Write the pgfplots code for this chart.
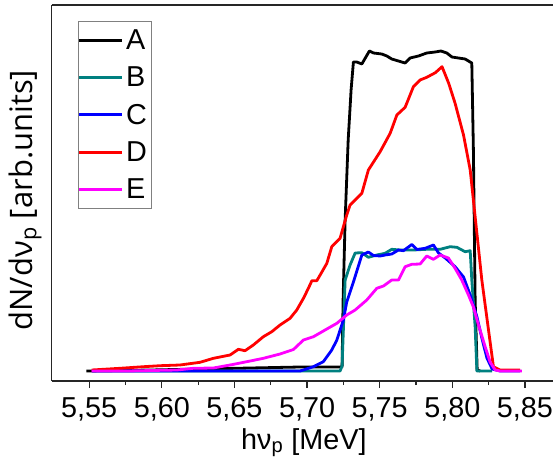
\documentclass[border=0pt]{standalone}
\usepackage{pgfplots}
\pgfplotsset{compat=1.18}
\usepackage{fontspec}
\setmainfont{Liberation Sans}
\newfontfamily\labfont{Open Sans}
\usetikzlibrary{calc}
\definecolor{cA}{RGB}{0,0,0}
\definecolor{cB}{RGB}{0,128,128}
\definecolor{cC}{RGB}{0,0,255}
\definecolor{cD}{RGB}{255,0,0}
\definecolor{cE}{RGB}{255,0,255}
\begin{document}
\begin{tikzpicture}
\begin{axis}[
  scale only axis, width=501.3pt, height=376pt,
  xmin=5.5242, xmax=5.8693, ymin=-10, ymax=366,
  axis x line=box, axis y line=left,
  axis line style={-, line width=1.4pt, black!85},
  ytick=\empty,
  xtick={5.55,5.60,5.65,5.70,5.75,5.80,5.85},
  minor x tick num=1,
  xtick pos=bottom, xtick align=outside,
  major tick length=7pt, minor tick length=4pt,
  every tick/.style={line width=1.2pt, black!85},
  font=\fontsize{28.8}{34}\selectfont,
  /pgf/number format/.cd, fixed, fixed zerofill, precision=2, use comma, assume math mode=true,
  /pgfplots/.cd,
  xticklabel style={font=\fontsize{28.8}{34}\selectfont, yshift=-6pt},
  xlabel={hν\textsubscript{p} [MeV]},
  xlabel style={at={(rel axis cs:0.503,-0.1809)}, anchor=base},
  ylabel={dN/dν\textsubscript{p} [arb.units]},
  ylabel style={at={(rel axis cs:-0.0379,0.481)}, anchor=base, font=\labfont\fontsize{31}{36}\selectfont},
  legend style={at={(rel axis cs:0.0531,0.9574)}, anchor=north west,
    draw=gray, line width=0.8pt, inner xsep=0pt, inner ysep=6pt,
    font=\fontsize{28.8}{34}\selectfont,
    row sep=12pt,
    nodes={inner xsep=4pt, inner ysep=2pt}},
  legend cell align=left,
  legend image code/.code={\fill[#1, draw=none] (-0.4pt,-1.5pt) rectangle (43pt,1.5pt);},
  every axis plot/.append style={line width=2.8pt, line join=round},
]
\addplot[cA] table {
5.548 0
5.592 1
5.626 2
5.661 3
5.695 4
5.7241 4
5.7248 71
5.7262 151
5.7283 231
5.7303 281
5.7319 309
5.7342 309
5.7377 307
5.7429 320
5.7457 318
5.7514 317
5.7549 315
5.7583 312
5.7629 310
5.7675 308
5.7709 313
5.7767 315
5.7824 318
5.7882 319
5.7921 320
5.7962 318
5.7997 314
5.8042 313
5.8088 312
5.8134 308
5.8145 221
5.8157 71
5.8171 1
5.8192 0
};
\addlegendentry{A}
\addplot[cB] table {
5.5519 0
5.6263 0
5.7227 0
5.7241 5
5.7262 91
5.7296 106
5.7331 118
5.7377 118.3
5.7422 113.7
5.7480 116
5.7537 117.7
5.7583 121.7
5.7640 121
5.7732 121
5.7824 121.7
5.7916 121.7
5.7985 124.3
5.8031 123.7
5.8088 119.3
5.8123 120.3
5.8134 91
5.8157 44.3
5.8169 0
5.8274 0
};
\addlegendentry{B}
\addplot[cC] table {
5.5519 0
5.6952 0
5.7044 4.3
5.7112 9.3
5.7170 21
5.7205 31
5.7250 51
5.7273 69
5.7319 89
5.7377 116
5.7422 119
5.7457 115.5
5.7503 115
5.7537 116
5.7583 117
5.7629 121
5.7663 120.3
5.7721 126.5
5.7756 121.5
5.7813 122.7
5.7870 126
5.7905 118
5.7951 113
5.8019 104.3
5.8077 94
5.8123 76
5.8169 54.3
5.8203 33
5.8238 13
5.8274 2
5.8329 0
5.8467 0
};
\addlegendentry{C}
\addplot[cD] table {
5.5517 1
5.5712 2.7
5.5873 4.3
5.5988 5.3
5.6125 6
5.6263 8.7
5.6355 12.7
5.6470 16
5.6527 21.7
5.6573 20.3
5.6630 26
5.6699 34.3
5.6757 39.3
5.6814 46
5.6883 52.7
5.6929 61
5.6975 72.7
5.7009 82.7
5.7033 90.3
5.7067 90.3
5.7090 96
5.7136 107.7
5.7170 124.3
5.7193 127.7
5.7227 132.7
5.7250 144.3
5.7273 156
5.7296 166
5.7377 177.7
5.7422 201
5.7503 219.3
5.7572 237.7
5.7618 256
5.7675 263.7
5.7732 284.3
5.7778 291
5.7824 293.7
5.7883 298.3
5.7929 304.3
5.7975 287.7
5.8019 267.7
5.8077 236
5.8123 201
5.8157 154.3
5.8203 91
5.8249 41
5.8283 4.3
5.8329 1
5.8467 1
};
\addlegendentry{D}
\addplot[cE] table {
5.5517 0
5.5758 0
5.6103 1
5.6217 2.7
5.6355 3
5.6470 6
5.6585 9.3
5.6699 12.7
5.6814 17
5.6906 21.5
5.6975 31
5.7044 34.3
5.7136 42
5.7205 47.7
5.7273 56
5.7331 61
5.7411 71
5.7480 82.7
5.7526 85
5.7583 91
5.7629 91
5.7675 104.3
5.7721 106.7
5.7778 107
5.7824 115
5.7870 111.7
5.7916 116
5.7973 113
5.8019 102.7
5.8065 91
5.8111 76
5.8145 64
5.8180 46
5.8226 24.3
5.8260 9
5.8295 1
5.8329 0
5.8479 0
};
\addlegendentry{E}
\coordinate (SW) at (rel axis cs:0,0);
\coordinate (NE) at (rel axis cs:1,1);
\end{axis}
\pgfresetboundingbox
\path[use as bounding box] ($(SW)+(-51.7pt,-78pt)$) rectangle ($(NE)+(0pt,5pt)$);
\end{tikzpicture}
\end{document}
